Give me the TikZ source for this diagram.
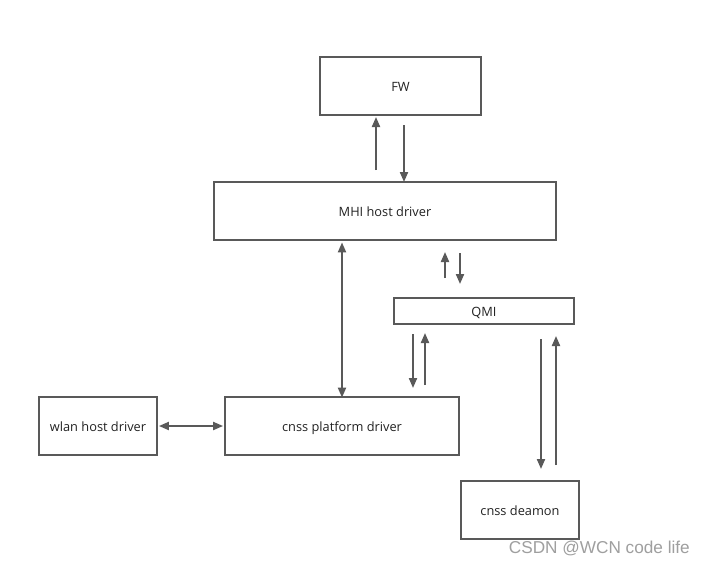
\documentclass[tikz,border=0pt]{standalone}
\usepackage{fontspec}
\setmainfont{Open Sans}
\newfontfamily\markfont{Liberation Sans}
\usetikzlibrary{arrows.meta}
\definecolor{edge}{HTML}{595959}
\definecolor{txt}{HTML}{222222}
\begin{document}
\begin{tikzpicture}[x=1pt,y=-1pt,
  box/.style={draw=edge,line width=1.8pt,fill=white,text=txt,font=\fontsize{12.8}{15}\selectfont,
    inner sep=0pt,text height=11pt,text depth=0pt},
  link/.style={draw=edge,line width=2pt,-{Triangle[length=10pt,width=8pt]}},
  both/.style={draw=edge,line width=2pt,{Triangle[length=10pt,width=8pt]}-{Triangle[length=10pt,width=8pt]}}]
\useasboundingbox[fill=white] (0,0) rectangle (705,565);
% boxes
\node[box,minimum width=161pt,minimum height=58pt] (fw) at (400.5,86) {FW};
\node[box,minimum width=342pt,minimum height=58pt] (mhi) at (385,211) {MHI host driver};
\node[box,minimum width=180pt,minimum height=26pt] (qmi) at (484,311) {QMI};
\node[box,minimum width=118pt,minimum height=58pt] (wlan) at (98,426) {wlan host driver};
\node[box,minimum width=234pt,minimum height=58pt] (plat) at (342,426) {cnss platform driver};
\node[box,minimum width=118pt,minimum height=58pt] (dmn) at (520,510) {cnss deamon};
% connector end points
\coordinate (a1) at (376,170); \coordinate (a2) at (376,117);
\coordinate (b1) at (404,125); \coordinate (b2) at (404,182);
\coordinate (c1) at (445,278); \coordinate (c2) at (445,252);
\coordinate (d1) at (460,253); \coordinate (d2) at (460,284);
\coordinate (e1) at (413,334); \coordinate (e2) at (413,388);
\coordinate (f1) at (425,385); \coordinate (f2) at (425,333);
\coordinate (g1) at (541,339); \coordinate (g2) at (541,469);
\coordinate (h1) at (556,465); \coordinate (h2) at (556,336);
% connectors
\draw[link] (a1) -- (a2);
\draw[link] (b1) -- (b2);
\draw[link] (c1) -- (c2);
\draw[link] (d1) -- (d2);
\draw[link] (e1) -- (e2);
\draw[link] (f1) -- (f2);
\draw[link] (g1) -- (g2);
\draw[link] (h1) -- (h2);
\draw[both] (mhi.south -| plat.north) ++(0,1.5) -- ([yshift=-1.5pt]plat.north);
\draw[both] (wlan.east) ++(1,0) -- ([xshift=-1pt]plat.west);
% watermark
\node[text=gray!75,font=\markfont\fontsize{17.2}{20}\selectfont,anchor=east,inner sep=0pt] (wm) at (690,548) {CSDN @WCN code life};
\end{tikzpicture}
\end{document}
